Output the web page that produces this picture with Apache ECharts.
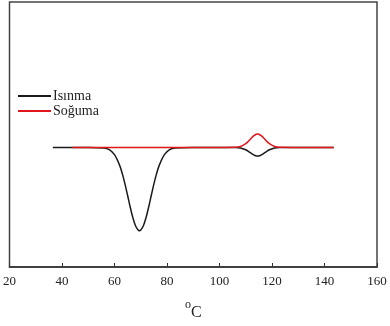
<!DOCTYPE html>
<html><head><meta charset="utf-8">
<script src="https://cdn.jsdelivr.net/npm/echarts@6/dist/echarts.min.js"></script>
<style>html,body{margin:0;padding:0;background:#fff}#c{width:390px;height:326px}</style>
</head><body><div id="c"></div>
<script>
// Temperatures (°C) and signal values (arbitrary units, baseline 0)
const heatingX = [36.5, 50, 56, 58, 60, 62, 63, 64, 65, 66, 67, 68, 69, 69.5, 70, 71, 72, 73, 74, 75, 76, 77, 79, 81, 83, 90, 100, 106, 108, 110, 111, 112, 113, 114, 114.5, 115, 116, 117, 118, 119, 121, 123, 130, 143.5];
const heatingY = [0, 0, -0.6, -2.4, -7.6, -19, -27.7, -38.4, -50.3, -62.5, -73.5, -81.9, -86.4, -87, -86.4, -81.9, -73.5, -62.5, -50.3, -38.4, -27.7, -19, -7.6, -2.4, -0.6, 0, 0, -0.1, -0.6, -2.5, -4.1, -6.0, -7.8, -8.9, -9, -8.9, -7.8, -6.0, -4.1, -2.5, -0.6, -0.1, 0, 0];
const coolingX = [44, 60, 80, 100, 106, 108, 110, 111, 112, 113, 114, 114.5, 115, 116, 117, 118, 119, 121, 123, 130, 143.5];
const coolingY = [0, 0, 0, 0, 0.15, 1.0, 3.9, 6.4, 9.4, 12.1, 13.8, 14, 13.8, 12.1, 9.4, 6.4, 3.9, 1.0, 0.15, 0, 0];
const xTicks = [20, 40, 60, 80, 100, 120, 140, 160];
const seriesNames = ['Isınma', 'Soğuma'];

const zip = (xs, ys) => xs.map((x, i) => [x, ys[i]]);
const font = 'Liberation Serif';
const chart = echarts.init(document.getElementById('c'));
chart.setOption({
  animation: false,
  textStyle: { fontFamily: font },
  grid: { left: 9, right: 13, top: 2, bottom: 49, show: true, borderColor: '#444', borderWidth: 1.5 },
  legend: {
    orient: 'vertical', left: 13, top: 84, itemGap: 1,
    itemWidth: 33, itemHeight: 2, icon: 'rect',
    textStyle: { fontFamily: font, fontSize: 14, color: '#222', padding: [0, 0, 0, -3] },
    data: seriesNames
  },
  xAxis: {
    type: 'value', min: xTicks[0], max: xTicks[xTicks.length - 1], interval: 20,
    axisLine: { show: true, onZero: false, lineStyle: { color: '#333', width: 1.5 } },
    axisTick: { show: true, inside: true, length: 4, lineStyle: { color: '#333' } },
    axisLabel: { fontFamily: font, fontSize: 13, color: '#222', margin: 8 },
    splitLine: { show: false },
    name: '{o|o}{c|C}', nameLocation: 'middle', nameGap: 32,
    nameTextStyle: { rich: {
      o: { fontFamily: font, fontSize: 12, color: '#222', verticalAlign: 'top', padding: [0, 0, 6, 0] },
      c: { fontFamily: font, fontSize: 16, color: '#222', padding: [6, 0, 0, 0] }
    } }
  },
  yAxis: {
    type: 'value', min: -125, max: 152,
    axisLine: { show: false }, axisTick: { show: false }, axisLabel: { show: false }, splitLine: { show: false }
  },
  series: [
    { name: seriesNames[0], type: 'line', data: zip(heatingX, heatingY), smooth: 0.3, showSymbol: false,
      lineStyle: { color: '#1a1a1a', width: 1.5 }, itemStyle: { color: '#1a1a1a' }, z: 2 },
    { name: seriesNames[1], type: 'line', data: zip(coolingX, coolingY), smooth: 0.3, showSymbol: false,
      lineStyle: { color: '#e0161b', width: 1.5 }, itemStyle: { color: '#e0161b' }, z: 3 }
  ]
});
</script></body></html>
